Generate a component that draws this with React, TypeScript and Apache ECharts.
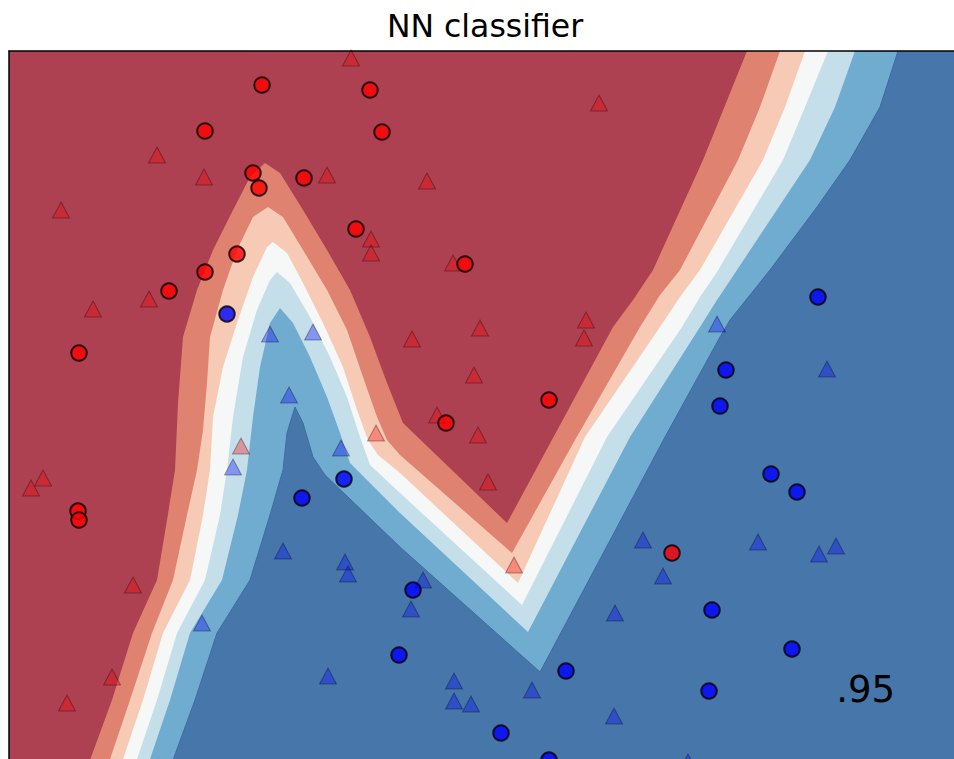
import { useEffect, useRef } from "react";
import * as echarts from "echarts";

type Pt = [number, number];

// Feature plane of the classifier (x to the right, y upwards)
const X_MAX = 952;
const Y_MAX = 720;
// Part of the plane that fits in the view
const VIEW_X: [number, number] = [0, 945];
const VIEW_Y: [number, number] = [12, 720];

const TITLE = "NN classifier";
const SCORE_LABEL = ".95";

// Contour edges of the predicted probability, each running from the bottom
// edge of the plane to its top edge. edge1 is the most "red" level, edge6 the most "blue".
const edge1: Pt[] = [
  [77, 0], [103, 71], [124, 138], [148, 191], [158, 251], [166, 301], [169, 368],
  [174, 434], [188, 481], [204, 521], [224, 561], [241, 594], [256, 608], [271, 598],
  [294, 561], [318, 521], [341, 481], [361, 434], [378, 388], [394, 348], [498, 248],
  [604, 444], [624, 471], [644, 501], [694, 611], [738, 720],
];
const edge2: Pt[] = [
  [97, 0], [121, 71], [143, 138], [164, 191], [178, 256], [188, 301], [194, 341],
  [198, 388], [201, 434], [214, 481], [228, 521], [244, 554], [259, 564], [274, 554],
  [294, 521], [318, 481], [338, 441], [354, 394], [368, 354], [378, 331], [391, 316],
  [503, 218], [566, 331], [631, 444], [651, 476], [671, 501], [729, 611], [751, 664],
  [771, 720],
];
const edge3: Pt[] = [
  [110, 0], [134, 71], [154, 138], [181, 191], [194, 256], [201, 301], [204, 354],
  [214, 404], [228, 448], [244, 494], [258, 524], [264, 529], [278, 518], [294, 488],
  [314, 448], [334, 404], [348, 361], [359, 331], [369, 316], [391, 298], [509, 188],
  [576, 334], [651, 444], [671, 474], [691, 501], [754, 611], [776, 664], [796, 720],
];
const edge4: Pt[] = [
  [124, 0], [148, 71], [168, 138], [196, 191], [211, 256], [218, 301], [224, 354],
  [234, 414], [248, 461], [261, 491], [268, 499], [281, 488], [301, 454], [321, 414],
  [338, 374], [351, 334], [361, 306], [391, 278], [513, 166], [598, 334], [673, 444],
  [691, 474], [708, 499], [774, 611], [796, 664], [819, 720],
];
const edge5: Pt[] = [
  [137, 0], [161, 71], [181, 138], [213, 191], [229, 256], [238, 301], [244, 354],
  [251, 404], [261, 448], [271, 463], [284, 448], [301, 414], [318, 374], [331, 338],
  [341, 308], [391, 258], [519, 139], [621, 334], [691, 444], [708, 471], [728, 501],
  [801, 611], [826, 664], [846, 720],
];
const edge6: Pt[] = [
  [160, 0], [186, 71], [208, 138], [241, 191], [261, 256], [274, 301], [278, 338],
  [286, 364], [294, 348], [304, 314], [316, 296], [391, 224], [531, 99], [656, 334],
  [711, 434], [721, 451], [761, 501], [808, 564], [841, 611], [871, 664], [889, 720],
];

// Band fills (RdBu at 0.8 alpha over white), from the bluest band to the reddest
const BAND_FILLS = ["#4676AA", "#70ABD0", "#C4DEEA", "#F6F7F7", "#F7CAB6", "#DF8270", "#AD4051"];

// Training points
const trainRed: Pt[] = [
  [253, 686], [361, 681], [196, 640], [373, 639], [244, 598], [250, 583], [295, 593],
  [347, 542], [228, 517], [456, 507], [196, 499], [160, 480], [70, 418], [540, 371],
  [437, 348], [69, 260], [70, 251], [663, 218],
];
const trainBlue: Pt[] = [
  [809, 474], [218, 457], [717, 401], [711, 365], [762, 297], [788, 279], [293, 273],
  [335, 292], [404, 181], [703, 161], [390, 116], [783, 122], [557, 100], [700, 80],
  [492, 38], [540, 11],
];

// Test points
const testRed: Pt[] = [
  [148, 616], [195, 594], [52, 561], [342, 713], [590, 668], [318, 596], [418, 590],
  [362, 532], [362, 518], [444, 508], [84, 462], [140, 472], [232, 325], [34, 293],
  [22, 283], [403, 432], [471, 443], [577, 451], [575, 433], [465, 396], [428, 356],
  [469, 336], [367, 338], [479, 289], [124, 186], [103, 94], [58, 68], [505, 206],
];
const testBlue: Pt[] = [
  [261, 437], [304, 439], [280, 376], [224, 304], [332, 323], [708, 447], [818, 402],
  [274, 220], [193, 148], [336, 209], [339, 197], [414, 191], [402, 162], [319, 95],
  [445, 90], [445, 70], [462, 67], [523, 81], [606, 158], [605, 55], [634, 231],
  [749, 229], [810, 217], [827, 225], [654, 195], [679, 9],
];

const bandPolygons: Pt[][] = [
  [[0, 0], [X_MAX, 0], [X_MAX, Y_MAX], [0, Y_MAX]],
  ...[edge6, edge5, edge4, edge3, edge2, edge1].map(
    (edge) => [[0, 0] as Pt, ...edge, [0, Y_MAX] as Pt]
  ),
];

export default function App() {
  const ref = useRef<HTMLDivElement>(null);

  useEffect(() => {
    document.body.style.margin = "0";
    if (!ref.current) return;
    const chart = echarts.init(ref.current, undefined, { renderer: "svg" });

    const frameAxis = {
      type: "value" as const,
      axisLine: { show: true, onZero: false, lineStyle: { color: "#000", width: 1.5 } },
      axisTick: { show: false },
      axisLabel: { show: false },
      splitLine: { show: false },
      z: 10,
    };

    const testStyle = (color: string) => ({
      color,
      borderColor: "#000",
      borderWidth: 1,
      opacity: 0.33,
    });
    const trainStyle = (color: string) => ({
      color,
      borderColor: "#000",
      borderWidth: 2,
    });

    chart.setOption({
      animation: false,
      backgroundColor: "#fff",
      grid: { left: 9, top: 51, right: 0, bottom: 0, show: false },
      xAxis: { ...frameAxis, min: VIEW_X[0], max: VIEW_X[1], position: "top" },
      yAxis: { ...frameAxis, min: VIEW_Y[0], max: VIEW_Y[1], position: "left" },
      graphic: [
        {
          type: "text",
          x: 485,
          y: 26,
          z: 20,
          style: {
            text: TITLE,
            fontFamily: "DejaVu Sans",
            fontSize: 31.5,
            fill: "#000",
            align: "center",
            verticalAlign: "middle",
          },
        },
        {
          type: "text",
          x: 895,
          y: 689,
          z: 20,
          style: {
            text: SCORE_LABEL,
            fontFamily: "DejaVu Sans",
            fontSize: 37,
            fill: "#000",
            align: "right",
            verticalAlign: "middle",
          },
        },
      ],
      series: [
        {
          type: "custom",
          coordinateSystem: "cartesian2d",
          silent: true,
          clip: true,
          z: 1,
          data: bandPolygons.map((_, i) => [i]),
          renderItem: (_params: any, api: any) => {
            const i = api.value(0) as number;
            const points = bandPolygons[i].map((p) => api.coord(p));
            return {
              type: "polygon",
              shape: { points },
              style: {
                fill: BAND_FILLS[i],
                stroke: i === 1 ? "#3F6DA0" : null,
                lineWidth: i === 1 ? 1 : 0,
              },
            };
          },
        },
        {
          type: "scatter",
          silent: true,
          clip: false,
          z: 3,
          data: testRed,
          symbol: "triangle",
          symbolSize: [17, 16],
          itemStyle: testStyle("#FF0000"),
        },
        {
          type: "scatter",
          silent: true,
          clip: false,
          z: 3,
          data: testBlue,
          symbol: "triangle",
          symbolSize: [17, 16],
          itemStyle: testStyle("#0000FF"),
        },
        {
          type: "scatter",
          silent: true,
          clip: false,
          z: 4,
          data: trainRed,
          symbol: "circle",
          symbolSize: 15.5,
          itemStyle: trainStyle("#FF0000"),
        },
        {
          type: "scatter",
          silent: true,
          clip: false,
          z: 4,
          data: trainBlue,
          symbol: "circle",
          symbolSize: 15.5,
          itemStyle: trainStyle("#0000FF"),
        },
      ],
    });

    return () => chart.dispose();
  }, []);

  return (
    <div
      ref={ref}
      style={{ position: "absolute", left: 0, top: 0, width: 954, height: 759 }}
    />
  );
}
